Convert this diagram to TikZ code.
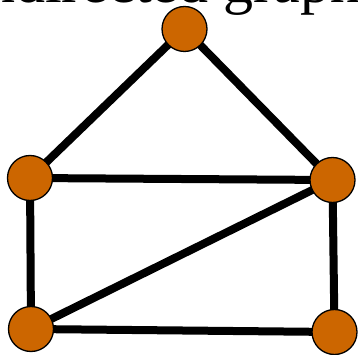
\documentclass[tikz,border=0pt]{standalone}
\usepackage{fontspec}
\setmainfont{Liberation Serif}
\definecolor{vfill}{HTML}{CC6600}
\begin{document}
\begin{tikzpicture}[x=1pt,y=-1pt,
  vert/.style={circle,draw=black,line width=1.3pt,fill=vfill,minimum size=45pt,inner sep=0pt},
  edge/.style={line width=8pt,black}]
\useasboundingbox (0,0) rectangle (358,355);
\node[anchor=base west,inner sep=0pt,font=\fontsize{60}{72}\selectfont] (title) at (-45,2.5) {undirected graph};
\coordinate (a) at (184.5,29);
\coordinate (b) at (30,178);
\coordinate (c) at (332.5,180);
\coordinate (d) at (31,329);
\coordinate (e) at (334.5,332);
\draw[edge] (a) -- (b);
\draw[edge] (a) -- (c);
\draw[edge] (b) -- (c);
\draw[edge] (b) -- (d);
\draw[edge] (c) -- (e);
\draw[edge] (d) -- (c);
\draw[edge] (d) -- (e);
\node[vert] (na) at (a) {};
\node[vert] (nb) at (b) {};
\node[vert] (nc) at (c) {};
\node[vert] (nd) at (d) {};
\node[vert] (ne) at (e) {};
\end{tikzpicture}
\end{document}
